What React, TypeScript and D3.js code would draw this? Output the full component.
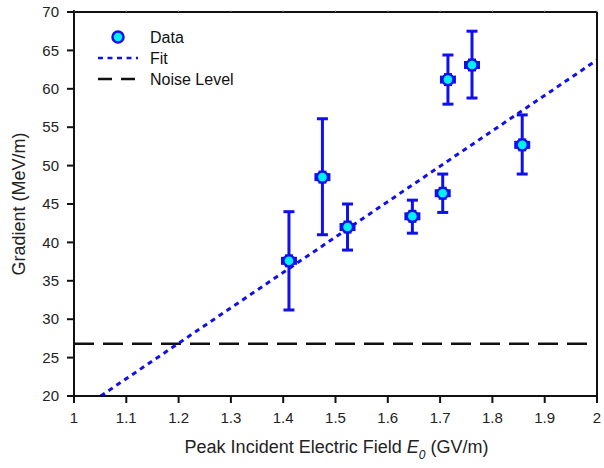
import React from 'react';
import * as d3 from 'd3';

const fieldValues = [1.411, 1.475, 1.523, 1.647, 1.705, 1.715, 1.761, 1.857];
const gradientValues = [37.6, 48.5, 42.0, 43.4, 46.4, 61.2, 63.1, 52.7];
const errorHigh = [44.0, 56.1, 45.0, 45.5, 48.9, 64.4, 67.5, 56.6];
const errorLow = [31.2, 41.0, 39.0, 41.2, 43.9, 58.0, 58.8, 48.9];

const fitSlope = 46.1;
const fitIntercept = -28.45;
const noiseLevel = 26.8;

const xTicks = [1, 1.1, 1.2, 1.3, 1.4, 1.5, 1.6, 1.7, 1.8, 1.9, 2];
const yTicks = [20, 25, 30, 35, 40, 45, 50, 55, 60, 65, 70];
const legendLabels = ['Data', 'Fit', 'Noise Level'];

const width = 604;
const height = 468;
const margin = { top: 12, right: 7, bottom: 72, left: 74 };
const font = 'Liberation Sans, Arial, Helvetica, sans-serif';
const blue = '#1010ee';

const App = () => {
  const x = d3.scaleLinear().domain([1, 2]).range([margin.left, width - margin.right]);
  const y = d3.scaleLinear().domain([20, 70]).range([height - margin.bottom, margin.top]);

  const points = fieldValues.map((f, i) => ({
    f, g: gradientValues[i], hi: errorHigh[i], lo: errorLow[i],
  }));

  // fit line clipped to the plot's lower bound
  const fitStart = (20 - fitIntercept) / fitSlope;
  const fitLine = d3.line<number>()
    .x(d => x(d))
    .y(d => y(fitSlope * d + fitIntercept));

  const x0 = margin.left;
  const x1 = width - margin.right;
  const y0 = height - margin.bottom;
  const y1 = margin.top;

  return (
    <svg width={width} height={height} style={{ position: 'absolute', left: 0, top: 0 }} fontFamily={font}>
      <rect width={width} height={height} fill="white" />

      {/* noise level */}
      <line x1={x0} x2={x1} y1={y(noiseLevel)} y2={y(noiseLevel)}
        stroke="#111" strokeWidth={2.5} strokeDasharray="20 9" />

      {/* fit */}
      <path d={fitLine([fitStart, 2]) || ''} fill="none" stroke={blue}
        strokeWidth={3} strokeDasharray="5 4.5" />

      {/* error bars */}
      {points.map((p, i) => (
        <g key={'e' + i} stroke={blue} strokeWidth={3}>
          <line x1={x(p.f)} x2={x(p.f)} y1={y(p.hi)} y2={y(p.lo)} />
          <line x1={x(p.f) - 5.5} x2={x(p.f) + 5.5} y1={y(p.hi)} y2={y(p.hi)} />
          <line x1={x(p.f) - 5.5} x2={x(p.f) + 5.5} y1={y(p.lo)} y2={y(p.lo)} />
        </g>
      ))}

      {/* markers */}
      {points.map((p, i) => (
        <g key={'m' + i} transform={`translate(${x(p.f)},${y(p.g)})`}>
          <rect x={-8} y={-4} width={16} height={8} fill={blue} />
          <rect x={-4} y={-6.5} width={8} height={13} fill={blue} />
          <circle r={6.5} fill={blue} />
          <circle r={4.3} fill="#00f0f8" />
        </g>
      ))}

      {/* frame */}
      <line x1={x0} x2={x1} y1={y1} y2={y1} stroke="#111" strokeWidth={2} />
      <line x1={x1} x2={x1} y1={y1} y2={y0} stroke="#111" strokeWidth={2} />
      <line x1={x0} x2={x1 + 1} y1={y0} y2={y0} stroke="#111" strokeWidth={2} />
      <line x1={x0} x2={x0} y1={y1 - 2} y2={y0 + 1} stroke="#111" strokeWidth={2} />

      {xTicks.map(t => (
        <g key={'x' + t}>
          <line x1={x(t)} x2={x(t)} y1={y0} y2={y0 + 7} stroke="#111" strokeWidth={2} />
          <line x1={x(t)} x2={x(t)} y1={y1} y2={y1 - 1.5} stroke="#888" strokeWidth={1} />
          <text x={x(t)} y={y0 + 27} textAnchor="middle" fontSize={15} fill="#222">{t}</text>
        </g>
      ))}

      {yTicks.map(t => (
        <g key={'y' + t}>
          <line x1={x0 - 7} x2={x0} y1={y(t)} y2={y(t)} stroke="#111" strokeWidth={2} />
          <text x={x0 - 15} y={y(t)} dy="0.35em" textAnchor="end" fontSize={15} fill="#222">{t}</text>
        </g>
      ))}

      {/* axis titles */}
      <text x={(x0 + x1) / 2 + 1} y={y0 + 57} textAnchor="middle" fontSize={18} fill="#222">
        Peak Incident Electric Field <tspan fontStyle="italic">E</tspan>
        <tspan fontStyle="italic" fontSize={12} dy={6}>0</tspan>
        <tspan dy={-6}> (GV/m)</tspan>
      </text>
      <text transform={`translate(25,${(y0 + y1) / 2}) rotate(-90)`} textAnchor="middle"
        fontSize={18} fill="#222">Gradient (MeV/m)</text>

      {/* legend */}
      <g fontSize={16} fill="#111">
        <circle cx={118} cy={37} r={5.5} fill="#00f0f8" stroke={blue} strokeWidth={2.5} />
        <text x={150} y={37} dy="0.35em">{legendLabels[0]}</text>
        <line x1={98} x2={138} y1={58} y2={58} stroke={blue} strokeWidth={2.5} strokeDasharray="5 4.5" />
        <text x={150} y={58} dy="0.35em">{legendLabels[1]}</text>
        <line x1={98} x2={138} y1={79} y2={79} stroke="#111" strokeWidth={2.5} strokeDasharray="14 9" />
        <text x={150} y={79} dy="0.35em">{legendLabels[2]}</text>
      </g>
    </svg>
  );
};

export default App;
